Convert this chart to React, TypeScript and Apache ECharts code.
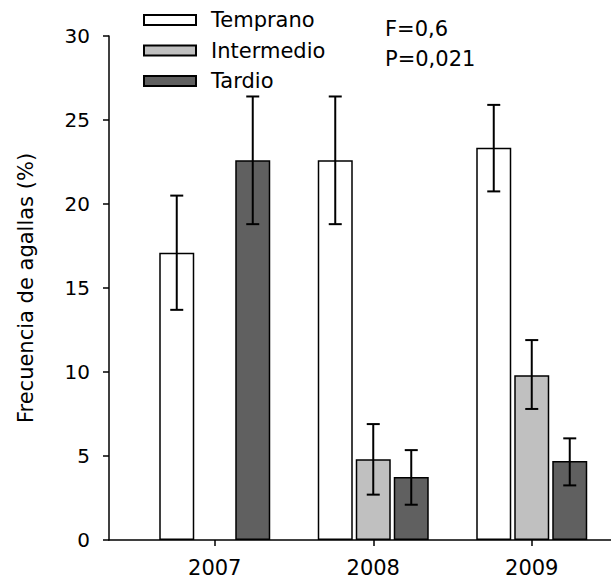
import React, { useEffect, useRef } from "react";
import * as echarts from "echarts";

const categories = ["2007", "2008", "2009"];
const seriesNames = ["Temprano", "Intermedio", "Tardio"];
const seriesColors = ["#ffffff", "#c0c0c0", "#606060"];
const temprano = [17.1, 22.6, 23.35];
const intermedio: (number | null)[] = [null, 4.8, 9.8];
const tardio = [22.6, 3.75, 4.7];
const tempranoLow = [13.7, 18.8, 20.75];
const tempranoHigh = [20.5, 26.4, 25.9];
const intermedioLow: (number | null)[] = [null, 2.7, 7.8];
const intermedioHigh: (number | null)[] = [null, 6.9, 11.9];
const tardioLow = [18.8, 2.1, 3.25];
const tardioHigh = [26.4, 5.35, 6.05];
const yTicks = { min: 0, max: 30, interval: 5 };
const statsText = ["F=0,6", "P=0,021"];
const yTitle = "Frecuencia de agallas (%)";

const FONT = "'DejaVu Sans', sans-serif";
const BAR_W = 35;
const BAR_GAP = 3;

export default function App() {
  const ref = useRef<HTMLDivElement>(null);
  useEffect(() => {
    document.body.style.margin = "0";
    const chart = echarts.init(ref.current!, undefined, { renderer: "svg" });
    const values = [temprano, intermedio, tardio];
    const lows = [tempranoLow, intermedioLow, tardioLow];
    const highs = [tempranoHigh, intermedioHigh, tardioHigh];
    const step = BAR_W + BAR_GAP;

    const barSeries = seriesNames.map((name, i) => ({
      name,
      type: "bar",
      xAxisIndex: 1,
      yAxisIndex: 1,
      barWidth: BAR_W,
      barGap: ((BAR_GAP / BAR_W) * 100).toFixed(2) + "%",
      data: values[i].map((v) => (v == null ? "-" : v)),
      itemStyle: { color: seriesColors[i], borderColor: "#000", borderWidth: 1.5 },
      z: 2,
    }));

    const errSeries = seriesNames.map((name, i) => ({
      name: name + "_err",
      type: "custom",
      xAxisIndex: 1,
      yAxisIndex: 1,
      z: 5,
      silent: true,
      data: categories
        .map((_, c) => [c, lows[i][c], highs[i][c]])
        .filter((d) => d[1] != null),
      renderItem: (params: any, api: any) => {
        const c = api.value(0);
        const top = api.coord([c, api.value(2)]);
        const bot = api.coord([c, api.value(1)]);
        const x = top[0] + (i - 1) * step;
        const cap = 6.5;
        const ls = { stroke: "#000", lineWidth: 2 };
        return {
          type: "group",
          children: [
            { type: "line", shape: { x1: x, y1: top[1], x2: x, y2: bot[1] }, style: ls },
            { type: "line", shape: { x1: x - cap, y1: top[1], x2: x + cap, y2: top[1] }, style: ls },
            { type: "line", shape: { x1: x - cap, y1: bot[1], x2: x + cap, y2: bot[1] }, style: ls },
          ],
        };
      },
    }));

    chart.setOption({
      animation: false,
      textStyle: { fontFamily: FONT },
      grid: [
        { left: 109, width: 502, top: 36, bottom: 45 },
        { left: 135.5, width: 490, top: 36, bottom: 45 },
      ],
      xAxis: [
        {
          type: "value",
          gridIndex: 0,
          min: 0,
          max: 1,
          axisLine: { show: true, lineStyle: { color: "#000", width: 1.5 } },
          axisTick: { show: false },
          axisLabel: { show: false },
          splitLine: { show: false },
        },
        {
          type: "category",
          gridIndex: 1,
          data: categories,
          axisLine: { show: false },
          axisTick: { show: true, alignWithLabel: true, length: 6, lineStyle: { color: "#000", width: 1.5 } },
          axisLabel: { fontSize: 21, color: "#000", margin: 17, fontFamily: FONT },
          splitLine: { show: false },
        },
      ],
      yAxis: [
        {
          type: "value",
          gridIndex: 0,
          min: yTicks.min,
          max: yTicks.max,
          interval: yTicks.interval,
          name: yTitle,
          nameLocation: "middle",
          nameGap: 73,
          nameTextStyle: { fontSize: 21, color: "#000", fontFamily: FONT },
          axisLine: { show: true, lineStyle: { color: "#000", width: 1.5 } },
          axisTick: { show: true, inside: false, length: 6, lineStyle: { color: "#000", width: 1.5 } },
          axisLabel: { fontSize: 20, color: "#000", margin: 19, fontFamily: FONT },
          splitLine: { show: false },
        },
        {
          type: "value",
          gridIndex: 1,
          min: yTicks.min,
          max: yTicks.max,
          show: false,
          splitLine: { show: false },
        },
      ],
      legend: {
        data: seriesNames,
        orient: "vertical",
        left: 143,
        top: 9.5,
        padding: 0,
        itemWidth: 52,
        itemHeight: 10,
        itemGap: 9.5,
        icon: "rect",
        textStyle: { fontSize: 21, lineHeight: 21, color: "#000", fontFamily: FONT, padding: [0, 0, 0, 10] },
      },
      graphic: statsText.map((t, k) => ({
        type: "text",
        left: 385,
        top: 18 + k * 30,
        style: { text: t, font: `21px ${FONT}`, fill: "#000" },
      })),
      series: [...barSeries, ...errSeries],
    });
    return () => chart.dispose();
  }, []);
  return <div ref={ref} style={{ width: 611, height: 585, position: "absolute", left: 0, top: 0 }} />;
}
